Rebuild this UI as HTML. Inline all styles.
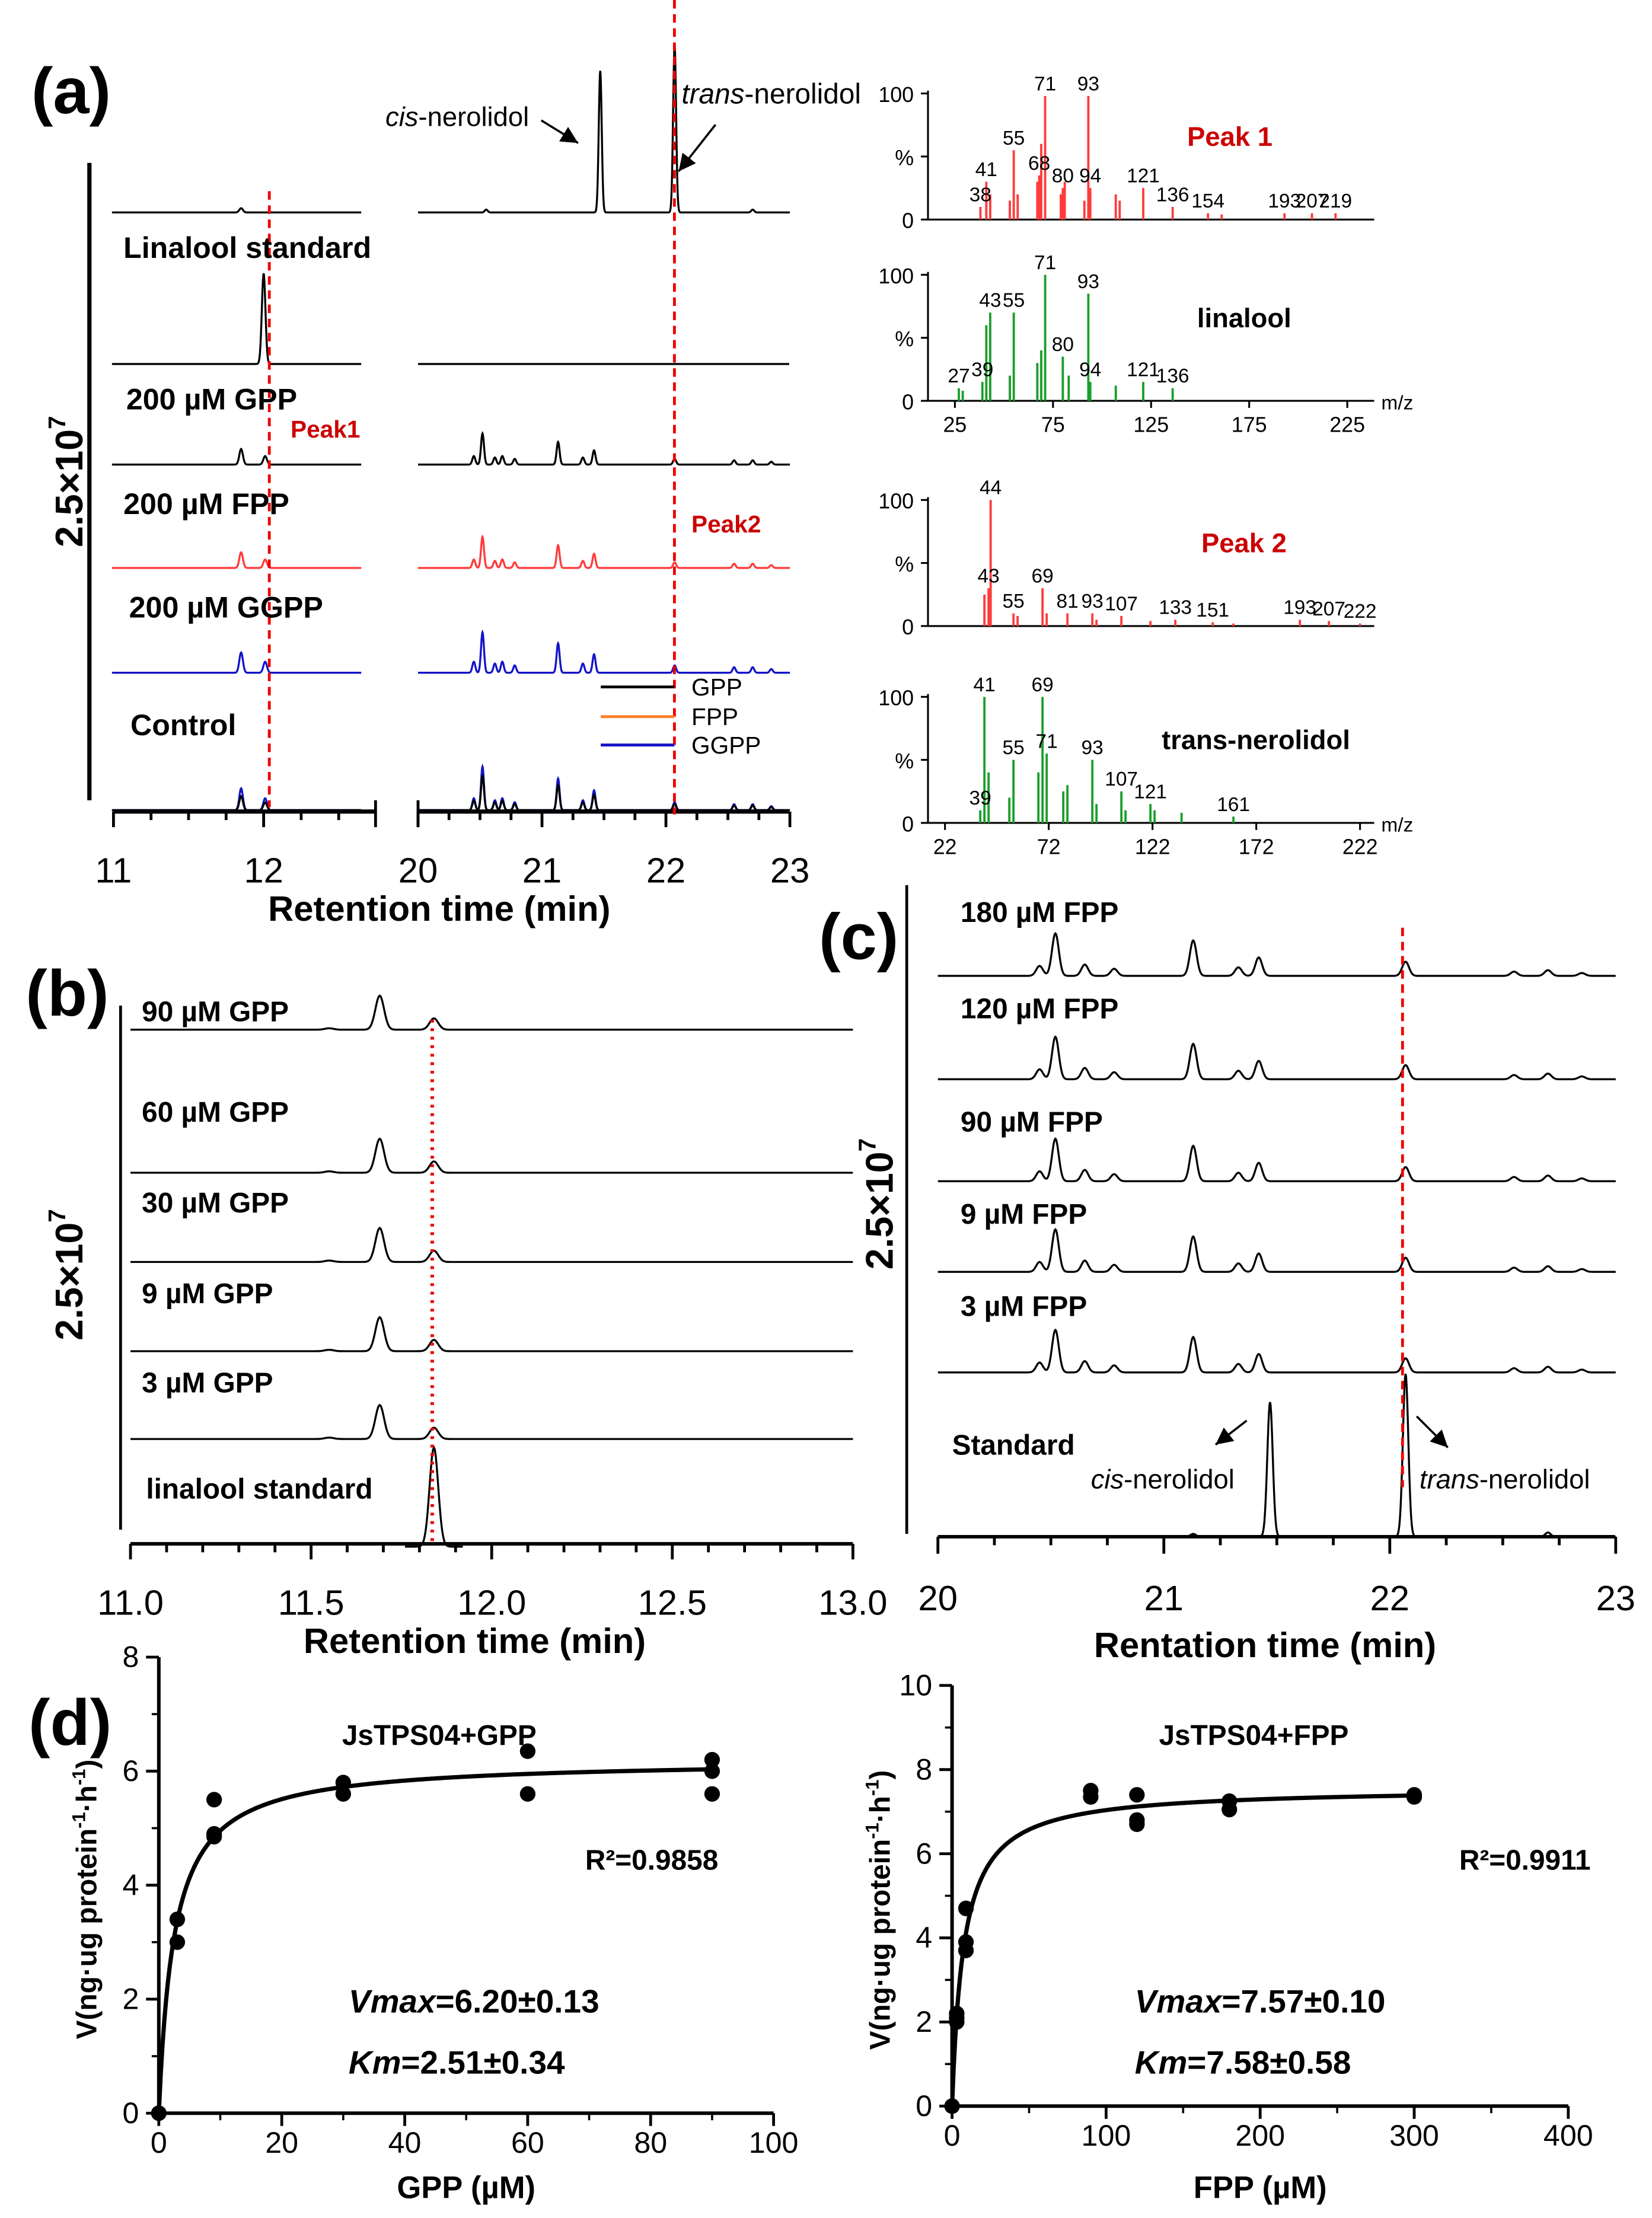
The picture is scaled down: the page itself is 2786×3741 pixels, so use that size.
<!DOCTYPE html>
<html><head><meta charset="utf-8">
<style>
html,body{margin:0;padding:0;background:#fff;}
svg{display:block;}
text{font-family:"Liberation Sans",Arial,sans-serif;}
</style></head>
<body>
<svg id="fig" xmlns="http://www.w3.org/2000/svg" width="2786" height="3741" viewBox="0 0 1166 1566">
<rect width="1166" height="1566" fill="#fff"/>
<g id="g"></g>
</svg>
<script>
// ===== Data =====
const sampleLeftPeaks = [[11.85,11],[12.01,6]];
const sampleRightPeaks = [[20.45,6],[20.52,22],[20.62,5],[20.68,6],[20.78,4],[21.13,16],[21.33,5],[21.42,10],[22.07,4],[22.55,3],[22.7,3],[22.85,2]];
const nerolidolPeaks = [[21.47,100],[22.07,118],[20.55,2],[22.7,2]];
const linaloolPeaks = [[12.0,64]];
const ms1 = [[38,0.1],[41,0.3],[43,0.2],[53,0.15],[55,0.55],[57,0.2],[67,0.3],[68,0.35],[69,0.6],[71,0.98],[79,0.2],[80,0.25],[81,0.3],[91,0.15],[93,0.98],[94,0.25],[107,0.2],[109,0.15],[121,0.25],[136,0.1],[154,0.05],[161,0.04],[193,0.05],[207,0.05],[219,0.05]];
const ms1Labels = [38,41,55,68,71,80,93,94,121,136,154,193,207,219];
const ms2 = [[27,0.1],[29,0.08],[39,0.15],[41,0.6],[43,0.7],[53,0.2],[55,0.7],[67,0.3],[69,0.4],[71,1.0],[80,0.35],[83,0.2],[93,0.85],[94,0.15],[107,0.12],[121,0.15],[136,0.1]];
const ms2Labels = [27,39,43,55,71,80,93,94,121,136];
const ms3 = [[41,0.25],[43,0.3],[44,1.0],[55,0.1],[57,0.08],[69,0.3],[71,0.1],[81,0.1],[93,0.1],[95,0.05],[107,0.08],[121,0.04],[133,0.05],[151,0.03],[161,0.02],[193,0.05],[207,0.04],[222,0.02]];
const ms3Labels = [43,44,55,69,81,93,107,133,151,193,207,222];
const ms4 = [[39,0.1],[41,1.0],[43,0.4],[53,0.2],[55,0.5],[67,0.4],[69,1.0],[71,0.55],[79,0.25],[81,0.3],[93,0.5],[95,0.15],[107,0.25],[109,0.1],[121,0.15],[123,0.1],[136,0.08],[161,0.05]];
const ms4Labels = [39,41,55,69,71,93,107,121,161];
const bConc = ["90 µM GPP","60 µM GPP","30 µM GPP","9 µM GPP","3 µM GPP"];
const bPeaks = [[11.69,24],[11.84,8],[11.55,1]];
const bTicks = [11.0,11.5,12.0,12.5,13.0];
const cConc = ["180 µM FPP","120 µM FPP","90 µM FPP","9 µM FPP","3 µM FPP"];
const cPeaks = [[20.45,7],[20.52,30],[20.65,8],[20.78,5],[21.13,25],[21.33,6],[21.42,13],[22.07,10],[22.55,3],[22.7,4],[22.85,2]];
const cStdPeaks = [[21.47,95],[22.07,115],[22.7,3],[21.13,2]];
const gppX = [0,3,3,9,9,9,30,30,60,60,90,90,90];
const gppY = [0,3.4,3.0,5.5,4.9,4.85,5.8,5.6,6.35,5.6,6.2,6.0,5.6];
const fppX = [0,3,3,3,9,9,9,90,90,120,120,120,180,180,300,300];
const fppY = [0,2.2,2.0,2.1,4.7,3.9,3.7,7.5,7.35,7.4,6.8,6.7,7.25,7.05,7.4,7.35];
const gppVmax = 6.20, gppKm = 2.51, fppVmax = 7.57, fppKm = 7.58;

const NS="http://www.w3.org/2000/svg";
const G=document.getElementById('g');
function el(tag,attrs,parent,txt){const e=document.createElementNS(NS,tag);for(const k in attrs)e.setAttribute(k,attrs[k]);if(txt!==undefined)e.textContent=txt;(parent||G).appendChild(e);return e;}
function txt(x,y,s,size,opts){opts=opts||{};const e=el('text',{x:x,y:y,'font-size':size,'font-weight':opts.w||'bold',fill:opts.fill||'#000','text-anchor':opts.a||'start'},opts.p,s);if(opts.rot)e.setAttribute('transform','rotate(-90 '+x+' '+y+')');if(opts.i)e.setAttribute('font-style','italic');return e;}
function line(x1,y1,x2,y2,c,w,dash,p){const a={x1:x1,y1:y1,x2:x2,y2:y2,stroke:c||'#000','stroke-width':w||1.5};if(dash)a['stroke-dasharray']=dash;return el('line',a,p);}
function trace(t0,t1,sx,base,peaks,color,sig,clip){
  let d='';const n=Math.round((t1-t0)*400);
  for(let i=0;i<=n;i++){const t=t0+(t1-t0)*i/n;let h=0;for(const p of peaks)h+=p[1]*Math.exp(-Math.pow((t-p[0])/(sig||0.012),2)/2);
    let y=base-h; if(clip!==undefined&&y<clip)y=clip; d+=(i?'L':'M')+sx(t).toFixed(2)+' '+y.toFixed(2);}
  return el('path',{d:d,fill:'none',stroke:color||'#000','stroke-width':1.4});
}
function arrow(x1,y1,x2,y2){line(x1,y1,x2,y2,'#000',1.5);const a=Math.atan2(y2-y1,x2-x1),L=12,W=6;
  const p=[[x2,y2],[x2-L*Math.cos(a)+W*Math.sin(a),y2-L*Math.sin(a)-W*Math.cos(a)],[x2-L*Math.cos(a)-W*Math.sin(a),y2-L*Math.sin(a)+W*Math.cos(a)]];
  const e=el('polygon',{points:p.map(q=>q.join(',')).join(' '),fill:'#000'});}

// ===== Panel (a) =====
const ga=el('g',{});
txt(22,80,'(a)',46,{p:ga});
line(63,115,63,565,'#000',3,null,ga);
const sc=txt(58,340,'2.5×10',27,{p:ga,rot:1,a:'middle'});
el('tspan',{dy:-12,'font-size':17},sc,'7');
const axL=t=>80+(t-11)*106, axR=t=>295+(t-20)*87.5;
line(80,573,265,573,'#000',3,null,ga);line(295,573,557,573,'#000',3,null,ga);
[11,11.25,11.5,11.75,12,12.25,12.5].forEach(t=>line(axL(t),573,axL(t),(t%1===0)?584:579,'#000',2,null,ga));
line(265,565,265,584,'#000',2,null,ga);line(295,565,295,584,'#000',2,null,ga);
[20,20.25,20.5,20.75,21,21.25,21.5,21.75,22,22.25,22.5,22.75,23].forEach(t=>line(axR(t),573,axR(t),(t%1===0)?584:579,'#000',2,null,ga));
[11,12].forEach(t=>txt(axL(t),623,String(t),25,{p:ga,a:'middle',w:'normal'}));
[20,21,22,23].forEach(t=>txt(axR(t),623,String(t),25,{p:ga,a:'middle',w:'normal'}));
txt(310,650,'Retention time (min)',25,{p:ga,a:'middle'});
function pair(base,lp,rp,color,rflat){
  ga.appendChild(trace(10.99,12.65,axL,base,lp,color));
  if(rflat) el('path',{d:'M295 '+base+'L557 '+base,stroke:color,'stroke-width':1.4},ga);
  else ga.appendChild(trace(20,23,axR,base,rp,color));
}
pair(150,[[11.85,3]],nerolidolPeaks,'#000');
pair(257,linaloolPeaks,[],'#000',true);
pair(328,sampleLeftPeaks,sampleRightPeaks,'#000');
pair(401,sampleLeftPeaks,sampleRightPeaks,'#ff3b3b');
pair(475,sampleLeftPeaks.map(p=>[p[0],p[1]*1.3]),sampleRightPeaks.map(p=>[p[0],p[1]*1.3]),'#1414c8');
pair(572,sampleLeftPeaks.map(p=>[p[0],p[1]*1.4]),sampleRightPeaks.map(p=>[p[0],p[1]*1.4]),'#1414c8');
pair(572,sampleLeftPeaks.map(p=>[p[0],p[1]*0.9]),sampleRightPeaks.map(p=>[p[0],p[1]*1.1]),'#000');
line(190,135,190,570,'#e00',2,'6,4',ga);
line(476,0,476,575,'#e00',2,'6,4',ga);
txt(87,182,'Linalool standard',21,{p:ga});
txt(89,289,'200 µM GPP',21,{p:ga});
txt(205,309,'Peak1',17,{p:ga,fill:'#c00'});
txt(87,363,'200 µM FPP',21,{p:ga});
txt(488,376,'Peak2',17,{p:ga,fill:'#c00'});
txt(91,436,'200 µM GGPP',21,{p:ga});
txt(92,519,'Control',21,{p:ga});
const ct=txt(272,89,'',19,{p:ga,w:'normal'});el('tspan',{'font-style':'italic'},ct,'cis');el('tspan',{},ct,'-nerolidol');
const tt=txt(481,73,'',20,{p:ga,w:'normal'});el('tspan',{'font-style':'italic'},tt,'trans');el('tspan',{},tt,'-nerolidol');
arrow(382,85,408,101);arrow(505,88,479,121);
[['GPP','#000',491],['FPP','#ff7f27',512],['GGPP','#1414c8',532]].forEach(l=>{line(424,l[2]-6,476,l[2]-6,l[1],2,null,ga);txt(488,l[2],l[0],17,{p:ga,w:'normal'});});

function ms(top,data,labels,color,x0,k,ticks,name,nameX,nameColor,mzLabel){
  const g=el('g',{});
  const h=89,bot=top+h;
  line(655,top-2,655,bot,'#000',1.3,null,g);line(655,bot,970,bot,'#000',1.3,null,g);
  [[0,'0'],[0.5,'%'],[1,'100']].forEach(v=>{line(650,bot-v[0]*h,655,bot-v[0]*h,'#000',1.3,null,g);txt(645,bot-v[0]*h+6,v[1],15,{p:g,a:'end',w:'normal'});});
  const mx=m=>x0+(m-ticks[0])*k;
  data.forEach(d=>{line(mx(d[0]),bot,mx(d[0]),bot-d[1]*h,color,1.6,null,g);});
  labels.forEach(m=>{const d=data.find(q=>q[0]===m);if(!d)return;const y=bot-d[1]*h-4;txt(mx(m),y,String(m),14,{p:g,a:'middle',w:'normal'});});
  if(mzLabel){ticks.forEach(t=>{line(mx(t),bot,mx(t),bot+5,'#000',1.3,null,g);txt(mx(t),bot+22,String(t),15,{p:g,a:'middle',w:'normal'});});txt(975,bot+6,'m/z',14,{p:g,w:'normal'});}
  txt(nameX,top+37,name,19,{p:g,fill:nameColor});
}
ms(66,ms1,ms1Labels,'#ff3b3b',674,1.385,[25,75,125,175,225],'Peak 1',838,'#c00',false);
ms(194,ms2,ms2Labels,'#1a9e2a',674,1.385,[25,75,125,175,225],'linalool',845,'#000',true);
ms(353,ms3,ms3Labels,'#ff3b3b',667,1.465,[22,72,122,172,222],'Peak 2',848,'#c00',false);
ms(492,ms4,ms4Labels,'#1a9e2a',667,1.465,[22,72,122,172,222],'trans-nerolidol',820,'#000',true);

// ===== Panel (b) =====
const gb=el('g',{});
txt(18,717,'(b)',46,{p:gb});
line(85,710,85,1080,'#000',2,null,gb);
const sb=txt(58,900,'2.5×10',27,{p:gb,rot:1,a:'middle'});el('tspan',{dy:-12,'font-size':17},sb,'7');
const bx=t=>92+(t-11)*255;
line(92,1090,602,1090,'#000',2.5,null,gb);
for(let t=11;t<=13.001;t+=0.1){const major=Math.abs((t*2)-Math.round(t*2))<0.01;line(bx(t),1090,bx(t),major?1101:1096,'#000',2,null,gb);}
bTicks.forEach(t=>txt(bx(t),1140,t.toFixed(1),25,{p:gb,a:'middle',w:'normal'}));
txt(335,1167,'Retention time (min)',25,{p:gb,a:'middle'});
const bBase=[727,828,891,954,1016],bLab=[727,798,862,926,989];
bConc.forEach((c,i)=>{txt(100,bLab[i]-6,c,20,{p:gb});gb.appendChild(trace(11,13,bx,bBase[i],bPeaks,'#000',0.012));});
txt(103,1058,'linalool standard',20,{p:gb});
gb.appendChild(trace(11.76,11.92,bx,1092,[[11.84,70]],'#000',0.012));
line(305,720,305,1090,'#e00',2.5,'2,4',gb);

// ===== Panel (c) =====
const gc=el('g',{});
txt(578,677,'(c)',46,{p:gc});
line(640,625,640,1083,'#000',2,null,gc);
const scc=txt(630,850,'2.5×10',27,{p:gc,rot:1,a:'middle'});el('tspan',{dy:-12,'font-size':17},scc,'7');
const cx=t=>662+(t-20)*159.5;
line(662,1085,1140,1085,'#000',2.5,null,gc);
for(let t=20;t<=23.001;t+=0.25){const major=Math.abs(t-Math.round(t))<0.01;line(cx(t),1085,cx(t),major?1097:1091,'#000',2,null,gc);}
[20,21,22,23].forEach(t=>txt(cx(t),1137,String(t),25,{p:gc,a:'middle',w:'normal'}));
txt(893,1170,'Rentation time (min)',25,{p:gc,a:'middle'});
const cBase=[689,762,834,898,969],cLab=[651,719,799,864,929];
cConc.forEach((c,i)=>{txt(678,cLab[i],c,20,{p:gc});gc.appendChild(trace(20,23,cx,cBase[i],cPeaks,'#000',0.015));});
gc.appendChild(trace(20,23,cx,1085,cStdPeaks,'#000',0.012));
line(990,655,990,1050,'#e00',2,'6,4',gc);
txt(672,1027,'Standard',20,{p:gc});
const c1=txt(770,1051,'',19,{p:gc,w:'normal'});el('tspan',{'font-style':'italic'},c1,'cis');el('tspan',{},c1,'-nerolidol');
const c2=txt(1002,1051,'',19,{p:gc,w:'normal'});el('tspan',{'font-style':'italic'},c2,'trans');el('tspan',{},c2,'-nerolidol');
arrow(880,1003,858,1020);arrow(1000,1000,1022,1022);

// ===== Panel (d) =====
function kin(name,x0,x1,xmax,xticks,y0,y1,ymax,yticks,xs,ys,vmax,km,title,tx,ty,r2,r2x,vx,xlab){
  const g=el('g',{});
  const X=v=>x0+(v/xmax)*(x1-x0),Y=v=>y0-(v/ymax)*(y0-y1);
  line(x0,y0,x1,y0,'#000',2.5,null,g);line(x0,y0,x0,y1,'#000',2.5,null,g);
  xticks.forEach(t=>{line(X(t),y0,X(t),y0+9,'#000',2,null,g);txt(X(t),y0+28,String(t),21,{p:g,a:'middle',w:'normal'});});
  yticks.forEach(t=>{line(x0-9,Y(t),x0,Y(t),'#000',2,null,g);txt(x0-14,Y(t)+7,String(t),21,{p:g,a:'end',w:'normal'});});
  for(let i=0;i<xticks.length-1;i++){const m=(xticks[i]+xticks[i+1])/2;line(X(m),y0,X(m),y0+5,'#000',1.5,null,g);}
  for(let i=0;i<yticks.length-1;i++){const m=(yticks[i]+yticks[i+1])/2;line(x0-5,Y(m),x0,Y(m),'#000',1.5,null,g);}
  let d='';for(let i=0;i<=300;i++){const s=xs[xs.length-1]*i/300;const v=vmax*s/(km+s);d+=(i?'L':'M')+X(s).toFixed(2)+' '+Y(v).toFixed(2);}
  el('path',{d:d,fill:'none',stroke:'#000','stroke-width':3},g);
  xs.forEach((v,i)=>{const c=el('circle',{cx:X(v),cy:Y(ys[i]),r:5.5,fill:'#000'},g);});
  txt(tx,ty,title,20,{p:g,a:'middle'});
  txt(r2x,1320,r2,20,{p:g});
  const v1=txt(vx,1421,'',23,{p:g});el('tspan',{'font-style':'italic'},v1,'Vmax');el('tspan',{},v1,'='+vmax.toFixed(2)+(name==='plot-gpp'?'±0.13':'±0.10'));
  const v2=txt(vx,1464,'',23,{p:g});el('tspan',{'font-style':'italic'},v2,'Km');el('tspan',{},v2,'='+km.toFixed(2)+(name==='plot-gpp'?'±0.34':'±0.58'));
  txt((x0+x1)/2,1552,xlab,22,{p:g,a:'middle'});
  const yt=txt(x0-44,(y0+y1)/2+10,'',20,{p:g,rot:1,a:'middle'});
  el('tspan',{},yt,'V(ng·ug protein');el('tspan',{dy:-8,'font-size':13},yt,'-1');el('tspan',{dy:8},yt,'·h');el('tspan',{dy:-8,'font-size':13},yt,'-1');el('tspan',{dy:8},yt,')');
}
txt(20,1232,'(d)',46,{});
kin('plot-gpp',112,546,100,[0,20,40,60,80,100],1492,1170,8,[0,2,4,6,8],gppX,gppY,gppVmax,gppKm,'JsTPS04+GPP',310,1232,'R²=0.9858',413,246,'GPP (µM)');
kin('plot-fpp',672,1107,400,[0,100,200,300,400],1487,1190,10,[0,2,4,6,8,10],fppX,fppY,fppVmax,fppKm,'JsTPS04+FPP',885,1232,'R²=0.9911',1030,801,'FPP (µM)');
</script>
</body></html>
